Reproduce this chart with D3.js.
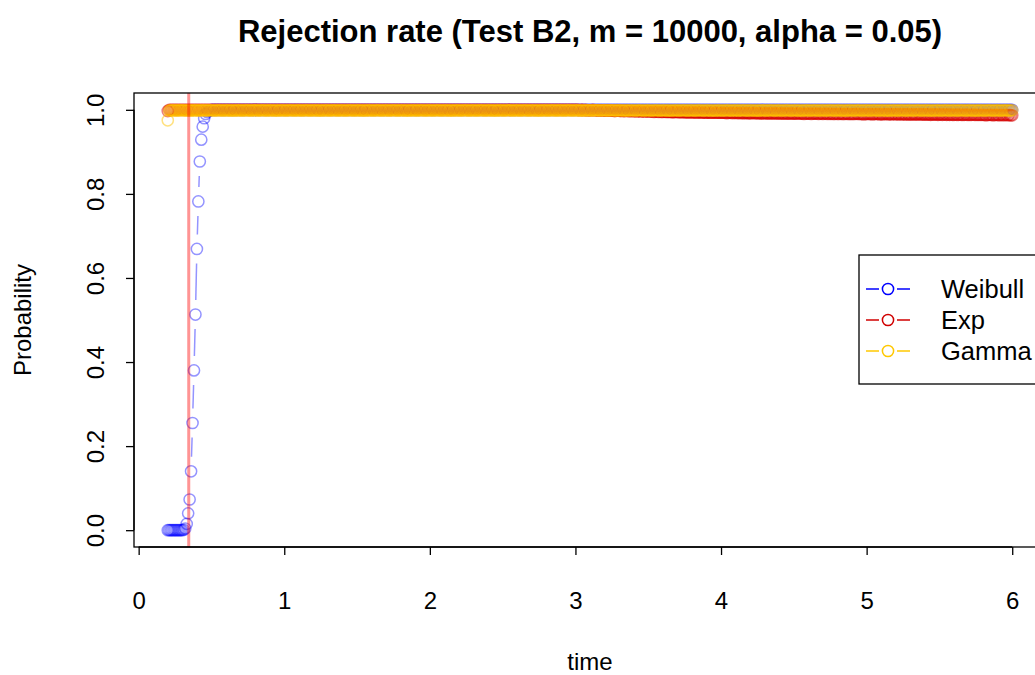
<!DOCTYPE html>
<html>
<head>
<meta charset="utf-8">
<script src="https://cdn.jsdelivr.net/npm/d3@7"></script>
<style>
  html, body { margin: 0; padding: 0; background: #ffffff; }
  svg { display: block; font-family: "Liberation Sans", Arial, Helvetica, sans-serif; }
</style>
</head>
<body>
<svg id="chart" width="1035" height="675"></svg>
<script>
// Time grid (simulation evaluation points), one row per 0.1
const time = [
0.20,0.21,0.22,0.23,0.24,0.25,0.26,0.27,0.28,0.29,
0.30,0.31,0.32,0.33,0.34,0.35,0.36,0.37,0.38,0.39,
0.40,0.41,0.42,0.43,0.44,0.45,0.46,0.47,0.48,0.49,
0.50,0.51,0.52,0.53,0.54,0.55,0.56,0.57,0.58,0.59,
0.60,0.61,0.62,0.63,0.64,0.65,0.66,0.67,0.68,0.69,
0.70,0.71,0.72,0.73,0.74,0.75,0.76,0.77,0.78,0.79,
0.80,0.81,0.82,0.83,0.84,0.85,0.86,0.87,0.88,0.89,
0.90,0.91,0.92,0.93,0.94,0.95,0.96,0.97,0.98,0.99,
1.00,1.01,1.02,1.03,1.04,1.05,1.06,1.07,1.08,1.09,
1.10,1.11,1.12,1.13,1.14,1.15,1.16,1.17,1.18,1.19,
1.20,1.21,1.22,1.23,1.24,1.25,1.26,1.27,1.28,1.29,
1.30,1.31,1.32,1.33,1.34,1.35,1.36,1.37,1.38,1.39,
1.40,1.41,1.42,1.43,1.44,1.45,1.46,1.47,1.48,1.49,
1.50,1.51,1.52,1.53,1.54,1.55,1.56,1.57,1.58,1.59,
1.60,1.61,1.62,1.63,1.64,1.65,1.66,1.67,1.68,1.69,
1.70,1.71,1.72,1.73,1.74,1.75,1.76,1.77,1.78,1.79,
1.80,1.81,1.82,1.83,1.84,1.85,1.86,1.87,1.88,1.89,
1.90,1.91,1.92,1.93,1.94,1.95,1.96,1.97,1.98,1.99,
2.00,2.01,2.02,2.03,2.04,2.05,2.06,2.07,2.08,2.09,
2.10,2.11,2.12,2.13,2.14,2.15,2.16,2.17,2.18,2.19,
2.20,2.21,2.22,2.23,2.24,2.25,2.26,2.27,2.28,2.29,
2.30,2.31,2.32,2.33,2.34,2.35,2.36,2.37,2.38,2.39,
2.40,2.41,2.42,2.43,2.44,2.45,2.46,2.47,2.48,2.49,
2.50,2.51,2.52,2.53,2.54,2.55,2.56,2.57,2.58,2.59,
2.60,2.61,2.62,2.63,2.64,2.65,2.66,2.67,2.68,2.69,
2.70,2.71,2.72,2.73,2.74,2.75,2.76,2.77,2.78,2.79,
2.80,2.81,2.82,2.83,2.84,2.85,2.86,2.87,2.88,2.89,
2.90,2.91,2.92,2.93,2.94,2.95,2.96,2.97,2.98,2.99,
3.00,3.01,3.02,3.03,3.04,3.05,3.06,3.07,3.08,3.09,
3.10,3.11,3.12,3.13,3.14,3.15,3.16,3.17,3.18,3.19,
3.20,3.21,3.22,3.23,3.24,3.25,3.26,3.27,3.28,3.29,
3.30,3.31,3.32,3.33,3.34,3.35,3.36,3.37,3.38,3.39,
3.40,3.41,3.42,3.43,3.44,3.45,3.46,3.47,3.48,3.49,
3.50,3.51,3.52,3.53,3.54,3.55,3.56,3.57,3.58,3.59,
3.60,3.61,3.62,3.63,3.64,3.65,3.66,3.67,3.68,3.69,
3.70,3.71,3.72,3.73,3.74,3.75,3.76,3.77,3.78,3.79,
3.80,3.81,3.82,3.83,3.84,3.85,3.86,3.87,3.88,3.89,
3.90,3.91,3.92,3.93,3.94,3.95,3.96,3.97,3.98,3.99,
4.00,4.01,4.02,4.03,4.04,4.05,4.06,4.07,4.08,4.09,
4.10,4.11,4.12,4.13,4.14,4.15,4.16,4.17,4.18,4.19,
4.20,4.21,4.22,4.23,4.24,4.25,4.26,4.27,4.28,4.29,
4.30,4.31,4.32,4.33,4.34,4.35,4.36,4.37,4.38,4.39,
4.40,4.41,4.42,4.43,4.44,4.45,4.46,4.47,4.48,4.49,
4.50,4.51,4.52,4.53,4.54,4.55,4.56,4.57,4.58,4.59,
4.60,4.61,4.62,4.63,4.64,4.65,4.66,4.67,4.68,4.69,
4.70,4.71,4.72,4.73,4.74,4.75,4.76,4.77,4.78,4.79,
4.80,4.81,4.82,4.83,4.84,4.85,4.86,4.87,4.88,4.89,
4.90,4.91,4.92,4.93,4.94,4.95,4.96,4.97,4.98,4.99,
5.00,5.01,5.02,5.03,5.04,5.05,5.06,5.07,5.08,5.09,
5.10,5.11,5.12,5.13,5.14,5.15,5.16,5.17,5.18,5.19,
5.20,5.21,5.22,5.23,5.24,5.25,5.26,5.27,5.28,5.29,
5.30,5.31,5.32,5.33,5.34,5.35,5.36,5.37,5.38,5.39,
5.40,5.41,5.42,5.43,5.44,5.45,5.46,5.47,5.48,5.49,
5.50,5.51,5.52,5.53,5.54,5.55,5.56,5.57,5.58,5.59,
5.60,5.61,5.62,5.63,5.64,5.65,5.66,5.67,5.68,5.69,
5.70,5.71,5.72,5.73,5.74,5.75,5.76,5.77,5.78,5.79,
5.80,5.81,5.82,5.83,5.84,5.85,5.86,5.87,5.88,5.89,
5.90,5.91,5.92,5.93,5.94,5.95,5.96,5.97,5.98,5.99,
6.00];

// Rejection rate under the Weibull alternative, one row per 0.1 of time
const weibull = [
/*0.2*/ 0,0,0,0,0,0,0,0,0,0,
/*0.3*/ 0,0.001,0.004,0.015,0.04,0.073,0.14,0.255,0.38,0.513,
/*0.4*/ 0.669,0.782,0.877,0.929,0.96,0.98,0.99,0.995,0.998,0.999,
/*0.5*/ 1,1,1,1,1,1,1,1,1,1,
/*0.6*/ 1,1,1,1,1,1,1,1,1,1,
/*0.7*/ 1,1,1,1,1,1,1,1,1,1,
/*0.8*/ 1,1,1,1,1,1,1,1,1,1,
/*0.9*/ 1,1,1,1,1,1,1,1,1,1,
/*1.0*/ 1,1,1,1,1,1,1,1,1,1,
/*1.1*/ 1,1,1,1,1,1,1,1,1,1,
/*1.2*/ 1,1,1,1,1,1,1,1,1,1,
/*1.3*/ 1,1,1,1,1,1,1,1,1,1,
/*1.4*/ 1,1,1,1,1,1,1,1,1,1,
/*1.5*/ 1,1,1,1,1,1,1,1,1,1,
/*1.6*/ 1,1,1,1,1,1,1,1,1,1,
/*1.7*/ 1,1,1,1,1,1,1,1,1,1,
/*1.8*/ 1,1,1,1,1,1,1,1,1,1,
/*1.9*/ 1,1,1,1,1,1,1,1,1,1,
/*2.0*/ 1,1,1,1,1,1,1,1,1,1,
/*2.1*/ 1,1,1,1,1,1,1,1,1,1,
/*2.2*/ 1,1,1,1,1,1,1,1,1,1,
/*2.3*/ 1,1,1,1,1,1,1,1,1,1,
/*2.4*/ 1,1,1,1,1,1,1,1,1,1,
/*2.5*/ 1,1,1,1,1,1,1,1,1,1,
/*2.6*/ 1,1,1,1,1,1,1,1,1,1,
/*2.7*/ 1,1,1,1,1,1,1,1,1,1,
/*2.8*/ 1,1,1,1,1,1,1,1,1,1,
/*2.9*/ 1,1,1,1,1,1,1,1,1,1,
/*3.0*/ 1,1,1,1,1,1,1,1,1,1,
/*3.1*/ 1,1,1,1,1,1,1,1,1,1,
/*3.2*/ 1,1,1,1,1,1,1,1,1,1,
/*3.3*/ 1,1,1,1,1,1,1,1,1,1,
/*3.4*/ 1,1,1,1,1,1,1,1,1,1,
/*3.5*/ 1,1,1,1,1,1,1,1,1,1,
/*3.6*/ 1,1,1,1,1,1,1,1,1,1,
/*3.7*/ 1,1,1,1,1,1,1,1,1,1,
/*3.8*/ 1,1,1,1,1,1,1,1,1,1,
/*3.9*/ 1,1,1,1,1,1,1,1,1,1,
/*4.0*/ 1,1,1,1,1,1,1,1,1,1,
/*4.1*/ 1,1,1,1,1,1,1,1,1,1,
/*4.2*/ 1,1,1,1,1,1,1,1,1,1,
/*4.3*/ 1,1,1,1,1,1,1,1,1,1,
/*4.4*/ 1,1,1,1,1,1,1,1,1,1,
/*4.5*/ 1,1,1,1,1,1,1,1,1,1,
/*4.6*/ 1,1,1,1,1,1,1,1,1,1,
/*4.7*/ 1,1,1,1,1,1,1,1,1,1,
/*4.8*/ 1,1,1,1,1,1,1,1,1,1,
/*4.9*/ 1,1,1,1,1,1,1,1,1,1,
/*5.0*/ 1,1,1,1,1,1,1,1,1,1,
/*5.1*/ 1,1,1,1,1,1,1,1,1,1,
/*5.2*/ 1,1,1,1,1,1,1,1,1,1,
/*5.3*/ 1,1,1,1,1,1,1,1,1,1,
/*5.4*/ 1,1,1,1,1,1,1,1,1,1,
/*5.5*/ 1,1,1,1,1,1,1,1,1,1,
/*5.6*/ 1,1,1,1,1,1,1,1,1,1,
/*5.7*/ 1,1,1,1,1,1,1,1,1,1,
/*5.8*/ 1,1,1,1,1,1,1,1,1,1,
/*5.9*/ 1,1,1,1,1,1,1,1,1,1,
/*6.0*/ 1];

// Rejection rate under the exponential alternative
const expo = [
/*0.2*/ 0.997,1,1,1,1,1,1,1,1,1,
/*0.3*/ 1,1,1,1,1,1,1,1,1,1,
/*0.4*/ 1,1,1,1,1,1,1,1,1,1,
/*0.5*/ 1,1,1,1,1,1,1,1,1,1,
/*0.6*/ 1,1,1,1,1,1,1,1,1,1,
/*0.7*/ 1,1,1,1,1,1,1,1,1,1,
/*0.8*/ 1,1,1,1,1,1,1,1,1,1,
/*0.9*/ 1,1,1,1,1,1,1,1,1,1,
/*1.0*/ 1,1,1,1,1,1,1,1,1,1,
/*1.1*/ 1,1,1,1,1,1,1,1,1,1,
/*1.2*/ 1,1,1,1,1,1,1,1,1,1,
/*1.3*/ 1,1,1,1,1,1,1,1,1,1,
/*1.4*/ 1,1,1,1,1,1,1,1,1,1,
/*1.5*/ 1,1,1,1,1,1,1,1,1,1,
/*1.6*/ 1,1,1,1,1,1,1,1,1,1,
/*1.7*/ 1,1,1,1,1,1,1,1,1,1,
/*1.8*/ 1,1,1,1,1,1,1,1,1,1,
/*1.9*/ 1,1,1,1,1,1,1,1,1,1,
/*2.0*/ 1,1,1,1,1,1,1,1,1,1,
/*2.1*/ 1,1,1,1,1,1,1,1,1,1,
/*2.2*/ 1,1,1,1,1,1,1,1,1,1,
/*2.3*/ 1,1,1,1,1,1,1,1,1,1,
/*2.4*/ 1,1,1,1,1,1,1,1,1,1,
/*2.5*/ 1,1,1,1,1,1,1,1,1,1,
/*2.6*/ 1,1,1,1,1,1,1,1,1,1,
/*2.7*/ 1,1,1,1,1,1,1,1,1,1,
/*2.8*/ 1,1,1,1,1,1,1,1,1,1,
/*2.9*/ 1,1,1,1,1,1,1,1,1,1,
/*3.0*/ 1,1,1,0.999,1,1,0.999,1,0.999,0.999,
/*3.1*/ 0.999,0.999,1,0.999,0.999,0.999,0.998,0.999,0.999,0.998,
/*3.2*/ 0.999,0.998,0.998,0.999,0.998,0.998,0.998,0.997,0.998,0.998,
/*3.3*/ 0.998,0.997,0.998,0.997,0.997,0.998,0.997,0.997,0.997,0.997,
/*3.4*/ 0.997,0.997,0.996,0.997,0.997,0.996,0.997,0.996,0.996,0.997,
/*3.5*/ 0.996,0.996,0.996,0.996,0.995,0.996,0.996,0.995,0.996,0.995,
/*3.6*/ 0.995,0.996,0.995,0.995,0.995,0.995,0.995,0.994,0.995,0.995,
/*3.7*/ 0.995,0.994,0.995,0.994,0.995,0.994,0.994,0.994,0.994,0.994,
/*3.8*/ 0.994,0.994,0.994,0.993,0.994,0.994,0.994,0.993,0.994,0.993,
/*3.9*/ 0.993,0.994,0.993,0.993,0.993,0.994,0.993,0.993,0.993,0.993,
/*4.0*/ 0.993,0.993,0.993,0.993,0.992,0.993,0.993,0.993,0.992,0.993,
/*4.1*/ 0.993,0.992,0.993,0.992,0.993,0.992,0.992,0.993,0.992,0.992,
/*4.2*/ 0.992,0.992,0.993,0.992,0.992,0.992,0.992,0.992,0.991,0.992,
/*4.3*/ 0.992,0.992,0.991,0.992,0.992,0.991,0.992,0.992,0.991,0.992,
/*4.4*/ 0.991,0.992,0.991,0.991,0.992,0.991,0.991,0.991,0.992,0.991,
/*4.5*/ 0.991,0.991,0.991,0.992,0.991,0.991,0.991,0.99,0.991,0.991,
/*4.6*/ 0.991,0.991,0.99,0.991,0.991,0.991,0.991,0.99,0.991,0.991,
/*4.7*/ 0.99,0.991,0.991,0.99,0.991,0.99,0.991,0.99,0.99,0.991,
/*4.8*/ 0.99,0.99,0.991,0.99,0.99,0.99,0.991,0.99,0.99,0.99,
/*4.9*/ 0.99,0.99,0.99,0.991,0.99,0.99,0.99,0.99,0.989,0.99,
/*5.0*/ 0.99,0.99,0.99,0.99,0.989,0.99,0.99,0.99,0.99,0.989,
/*5.1*/ 0.99,0.989,0.99,0.99,0.99,0.989,0.99,0.989,0.99,0.99,
/*5.2*/ 0.989,0.99,0.989,0.99,0.989,0.99,0.989,0.989,0.99,0.989,
/*5.3*/ 0.989,0.989,0.99,0.989,0.989,0.989,0.99,0.989,0.989,0.989,
/*5.4*/ 0.989,0.989,0.989,0.989,0.988,0.989,0.989,0.989,0.989,0.988,
/*5.5*/ 0.989,0.989,0.988,0.989,0.989,0.988,0.989,0.988,0.989,0.988,
/*5.6*/ 0.988,0.989,0.988,0.988,0.989,0.988,0.988,0.988,0.989,0.988,
/*5.7*/ 0.988,0.988,0.988,0.989,0.988,0.988,0.988,0.988,0.988,0.988,
/*5.8*/ 0.988,0.988,0.987,0.988,0.988,0.988,0.988,0.987,0.988,0.988,
/*5.9*/ 0.988,0.987,0.988,0.988,0.987,0.988,0.988,0.987,0.988,0.987,
/*6.0*/ 0.987];

// Rejection rate under the gamma alternative
const gamma = [
/*0.2*/ 0.975,0.998,0.999,0.999,0.999,0.999,0.998,0.999,0.999,0.999,
/*0.3*/ 0.999,0.999,0.999,0.998,0.999,0.999,0.998,0.999,0.999,0.999,
/*0.4*/ 0.999,0.998,0.999,0.999,0.999,0.999,0.999,0.998,0.999,0.999,
/*0.5*/ 0.999,0.999,0.998,0.999,0.999,0.999,0.999,0.999,0.998,0.999,
/*0.6*/ 0.999,0.999,0.999,0.998,0.999,0.999,0.998,0.999,0.999,0.999,
/*0.7*/ 0.999,0.998,0.999,0.999,0.999,0.999,0.999,0.998,0.999,0.999,
/*0.8*/ 0.999,0.999,0.998,0.999,0.999,0.999,0.999,0.999,0.998,0.999,
/*0.9*/ 0.999,0.999,0.999,0.998,0.999,0.999,0.998,0.999,0.999,0.999,
/*1.0*/ 0.999,0.998,0.999,0.999,0.999,0.999,0.999,0.998,0.999,0.999,
/*1.1*/ 0.999,0.999,0.998,0.999,0.999,0.999,0.999,0.999,0.998,0.999,
/*1.2*/ 0.999,0.999,0.999,0.998,0.999,0.999,0.998,0.999,0.999,0.999,
/*1.3*/ 0.999,0.998,0.999,0.999,0.999,0.999,0.999,0.998,0.999,0.999,
/*1.4*/ 0.999,0.999,0.998,0.999,0.999,0.999,0.999,0.999,0.998,0.999,
/*1.5*/ 0.999,0.999,0.999,0.998,0.999,0.999,0.998,0.999,0.999,0.999,
/*1.6*/ 0.999,0.998,0.999,0.999,0.999,0.999,0.999,0.998,0.999,0.999,
/*1.7*/ 0.999,0.999,0.998,0.999,0.999,0.999,0.999,0.999,0.998,0.999,
/*1.8*/ 0.999,0.999,0.999,0.998,0.999,0.999,0.998,0.999,0.999,0.999,
/*1.9*/ 0.999,0.998,0.999,0.999,0.999,0.999,0.999,0.998,0.999,0.999,
/*2.0*/ 0.999,0.999,0.998,0.999,0.999,0.999,0.999,0.999,0.998,0.999,
/*2.1*/ 0.999,0.999,0.999,0.998,0.999,0.999,0.998,0.999,0.999,0.999,
/*2.2*/ 0.999,0.998,0.999,0.999,0.999,0.999,0.999,0.998,0.999,0.999,
/*2.3*/ 0.999,0.999,0.998,0.999,0.999,0.999,0.999,0.999,0.998,0.999,
/*2.4*/ 0.999,0.999,0.999,0.998,0.999,0.999,0.998,0.999,0.999,0.999,
/*2.5*/ 0.999,0.998,0.999,0.999,0.999,0.999,0.999,0.998,0.999,0.999,
/*2.6*/ 0.999,0.999,0.998,0.999,0.999,0.999,0.999,0.999,0.998,0.999,
/*2.7*/ 0.999,0.999,0.999,0.998,0.999,0.999,0.998,0.999,0.999,0.999,
/*2.8*/ 0.999,0.998,0.999,0.999,0.999,0.999,0.999,0.998,0.999,0.999,
/*2.9*/ 0.999,0.999,0.998,0.999,0.999,0.999,0.999,0.999,0.998,0.999,
/*3.0*/ 0.999,0.999,0.999,0.998,0.999,0.999,0.998,0.999,0.999,0.999,
/*3.1*/ 0.999,0.998,0.999,0.999,0.999,0.999,0.999,0.998,0.999,0.999,
/*3.2*/ 0.999,0.999,0.998,0.999,0.999,0.999,0.999,0.999,0.998,0.999,
/*3.3*/ 0.999,0.999,0.999,0.998,0.999,0.999,0.998,0.999,0.999,0.999,
/*3.4*/ 0.999,0.998,0.999,0.999,0.999,0.999,0.999,0.998,0.999,0.999,
/*3.5*/ 0.999,0.999,0.998,0.999,0.999,0.999,0.999,0.999,0.998,0.999,
/*3.6*/ 0.999,0.999,0.999,0.998,0.999,0.999,0.998,0.999,0.999,0.999,
/*3.7*/ 0.999,0.998,0.999,0.999,0.999,0.999,0.999,0.998,0.999,0.999,
/*3.8*/ 0.999,0.999,0.998,0.999,0.999,0.999,0.999,0.999,0.998,0.999,
/*3.9*/ 0.999,0.999,0.999,0.998,0.999,0.999,0.998,0.999,0.999,0.999,
/*4.0*/ 0.999,0.998,0.999,0.999,0.999,0.999,0.999,0.998,0.999,0.999,
/*4.1*/ 0.999,0.999,0.998,0.999,0.999,0.999,0.999,0.999,0.998,0.999,
/*4.2*/ 0.999,0.999,0.999,0.998,0.999,0.999,0.998,0.999,0.999,0.999,
/*4.3*/ 0.999,0.998,0.999,0.999,0.999,0.999,0.999,0.998,0.999,0.999,
/*4.4*/ 0.999,0.999,0.998,0.999,0.999,0.999,0.999,0.999,0.998,0.999,
/*4.5*/ 0.999,0.999,0.999,0.998,0.999,0.999,0.998,0.999,0.999,0.999,
/*4.6*/ 0.999,0.998,0.999,0.999,0.999,0.999,0.999,0.998,0.999,0.999,
/*4.7*/ 0.999,0.999,0.998,0.999,0.999,0.999,0.999,0.999,0.998,0.999,
/*4.8*/ 0.999,0.999,0.999,0.998,0.999,0.999,0.998,0.999,0.999,0.999,
/*4.9*/ 0.999,0.998,0.999,0.999,0.999,0.999,0.999,0.998,0.999,0.999,
/*5.0*/ 0.999,0.999,0.998,0.999,0.999,0.999,0.999,0.999,0.998,0.999,
/*5.1*/ 0.999,0.999,0.999,0.998,0.999,0.999,0.998,0.999,0.999,0.999,
/*5.2*/ 0.999,0.998,0.999,0.999,0.999,0.999,0.999,0.998,0.999,0.999,
/*5.3*/ 0.999,0.999,0.998,0.999,0.999,0.999,0.999,0.999,0.998,0.999,
/*5.4*/ 0.999,0.999,0.999,0.998,0.999,0.999,0.998,0.999,0.999,0.999,
/*5.5*/ 0.999,0.998,0.999,0.999,0.999,0.999,0.999,0.998,0.999,0.999,
/*5.6*/ 0.999,0.999,0.998,0.999,0.999,0.999,0.999,0.999,0.998,0.999,
/*5.7*/ 0.999,0.999,0.999,0.998,0.999,0.999,0.998,0.999,0.999,0.999,
/*5.8*/ 0.999,0.998,0.999,0.999,0.999,0.999,0.999,0.998,0.999,0.999,
/*5.9*/ 0.999,0.999,0.998,0.999,0.999,0.999,0.999,0.999,0.998,0.999,
/*6.0*/ 0.999];

// Axis ticks, legend entries, reference time
const xTicks = [0, 1, 2, 3, 4, 5, 6];
const yTicks = [0, 0.2, 0.4, 0.6, 0.8, 1.0];
const seriesNames = ["Weibull", "Exp", "Gamma"];
const refTime = 0.344;

const svg = d3.select("#chart");
const FS = 24;

// Plot region (4% padding on the data range)
const x = d3.scaleLinear().domain([-0.032, 6.232]).range([134, 1046]);
const y = d3.scaleLinear().domain([-0.04, 1.04]).range([547, 93]);

const seriesData = [weibull, expo, gamma];
const pointColors = ["rgba(0,0,255,0.42)", "rgba(215,0,0,0.5)", "rgba(255,195,0,0.5)"];
const keyColors = ["#0000ff", "#d00000", "#ffc800"];

const R = 5.6;      // circle radius
const GAP = 14.5;   // gap left around each point by the connecting segments

const plot = svg.append("g");

seriesData.forEach((vals, si) => {
  const n = Math.min(time.length, vals.length);
  const pts = d3.range(n).map(i => [x(time[i]), y(vals[i])]);
  const g = plot.append("g");
  // connecting segments, trimmed so they stop short of each point
  for (let i = 0; i < n - 1; i++) {
    const [x0, y0] = pts[i], [x1, y1] = pts[i + 1];
    const dx = x1 - x0, dy = y1 - y0;
    const len = Math.hypot(dx, dy);
    if (len > 2 * GAP) {
      const ux = dx / len, uy = dy / len;
      g.append("line")
        .attr("x1", x0 + ux * GAP).attr("y1", y0 + uy * GAP)
        .attr("x2", x1 - ux * GAP).attr("y2", y1 - uy * GAP)
        .attr("stroke", pointColors[si]).attr("stroke-width", 1.5);
    }
  }
  g.selectAll("circle").data(pts).join("circle")
    .attr("cx", d => d[0]).attr("cy", d => d[1]).attr("r", R)
    .attr("fill", "none").attr("stroke", pointColors[si]).attr("stroke-width", 1.5);
});

// vertical reference line
svg.append("line")
  .attr("x1", x(refTime)).attr("x2", x(refTime))
  .attr("y1", y.range()[0]).attr("y2", y.range()[1])
  .attr("stroke", "rgba(255,0,0,0.42)").attr("stroke-width", 3);

// plot box
svg.append("rect")
  .attr("x", 134).attr("y", 93).attr("width", 912).attr("height", 454)
  .attr("fill", "none").attr("stroke", "#000").attr("stroke-width", 1.3);

// x axis
const xAxis = svg.append("g").attr("transform", "translate(0,547)")
  .call(d3.axisBottom(x).tickValues(xTicks).tickFormat(d3.format("d")).tickSize(8).tickPadding(37));
xAxis.select(".domain").attr("d", `M${x(xTicks[0])},0H${x(xTicks[xTicks.length - 1])}`)
  .attr("stroke-width", 1.3);
xAxis.selectAll(".tick line").attr("stroke-width", 1.3);
xAxis.selectAll("text").attr("font-size", FS).attr("font-family", "Liberation Sans, Arial, sans-serif").attr("fill", "#000");

// y axis
const yAxis = svg.append("g").attr("transform", "translate(134,0)")
  .call(d3.axisLeft(y).tickValues(yTicks).tickFormat(d3.format(".1f")).tickSize(8));
yAxis.select(".domain").attr("d", `M0,${y(yTicks[0])}V${y(yTicks[yTicks.length - 1])}`)
  .attr("stroke-width", 1.3);
yAxis.selectAll(".tick line").attr("stroke-width", 1.3);
yAxis.selectAll("text")
  .attr("x", null).attr("dy", null)
  .attr("transform", "translate(-30,0) rotate(-90)")
  .attr("text-anchor", "middle")
  .attr("font-size", FS).attr("font-family", "Liberation Sans, Arial, sans-serif").attr("fill", "#000");

// title and axis titles
svg.append("text").attr("x", 590).attr("y", 42).attr("text-anchor", "middle")
  .attr("font-size", 31).attr("font-weight", "bold")
  .text("Rejection rate (Test B2, m = 10000, alpha = 0.05)");
svg.append("text").attr("x", 590).attr("y", 670).attr("text-anchor", "middle")
  .attr("font-size", FS).text("time");
svg.append("text").attr("transform", "translate(31,320) rotate(-90)").attr("text-anchor", "middle")
  .attr("font-size", FS).text("Probability");

// legend
const leg = svg.append("g");
leg.append("rect").attr("x", 859).attr("y", 255).attr("width", 200).attr("height", 129)
  .attr("fill", "#fff").attr("stroke", "#000").attr("stroke-width", 1.3);
const rowY = d3.scalePoint().domain(seriesNames).range([289, 351]);
seriesNames.forEach((name, i) => {
  const yy = rowY(name);
  const row = leg.append("g");
  row.append("line").attr("x1", 866).attr("x2", 879).attr("y1", yy).attr("y2", yy)
    .attr("stroke", keyColors[i]).attr("stroke-width", 1.5);
  row.append("line").attr("x1", 897).attr("x2", 910).attr("y1", yy).attr("y2", yy)
    .attr("stroke", keyColors[i]).attr("stroke-width", 1.5);
  row.append("circle").attr("cx", 888).attr("cy", yy).attr("r", R)
    .attr("fill", "none").attr("stroke", keyColors[i]).attr("stroke-width", 1.5);
  row.append("text").attr("x", 941).attr("y", yy).attr("dy", "0.35em")
    .attr("font-size", 25.5).text(name);
});
</script>
</body>
</html>
